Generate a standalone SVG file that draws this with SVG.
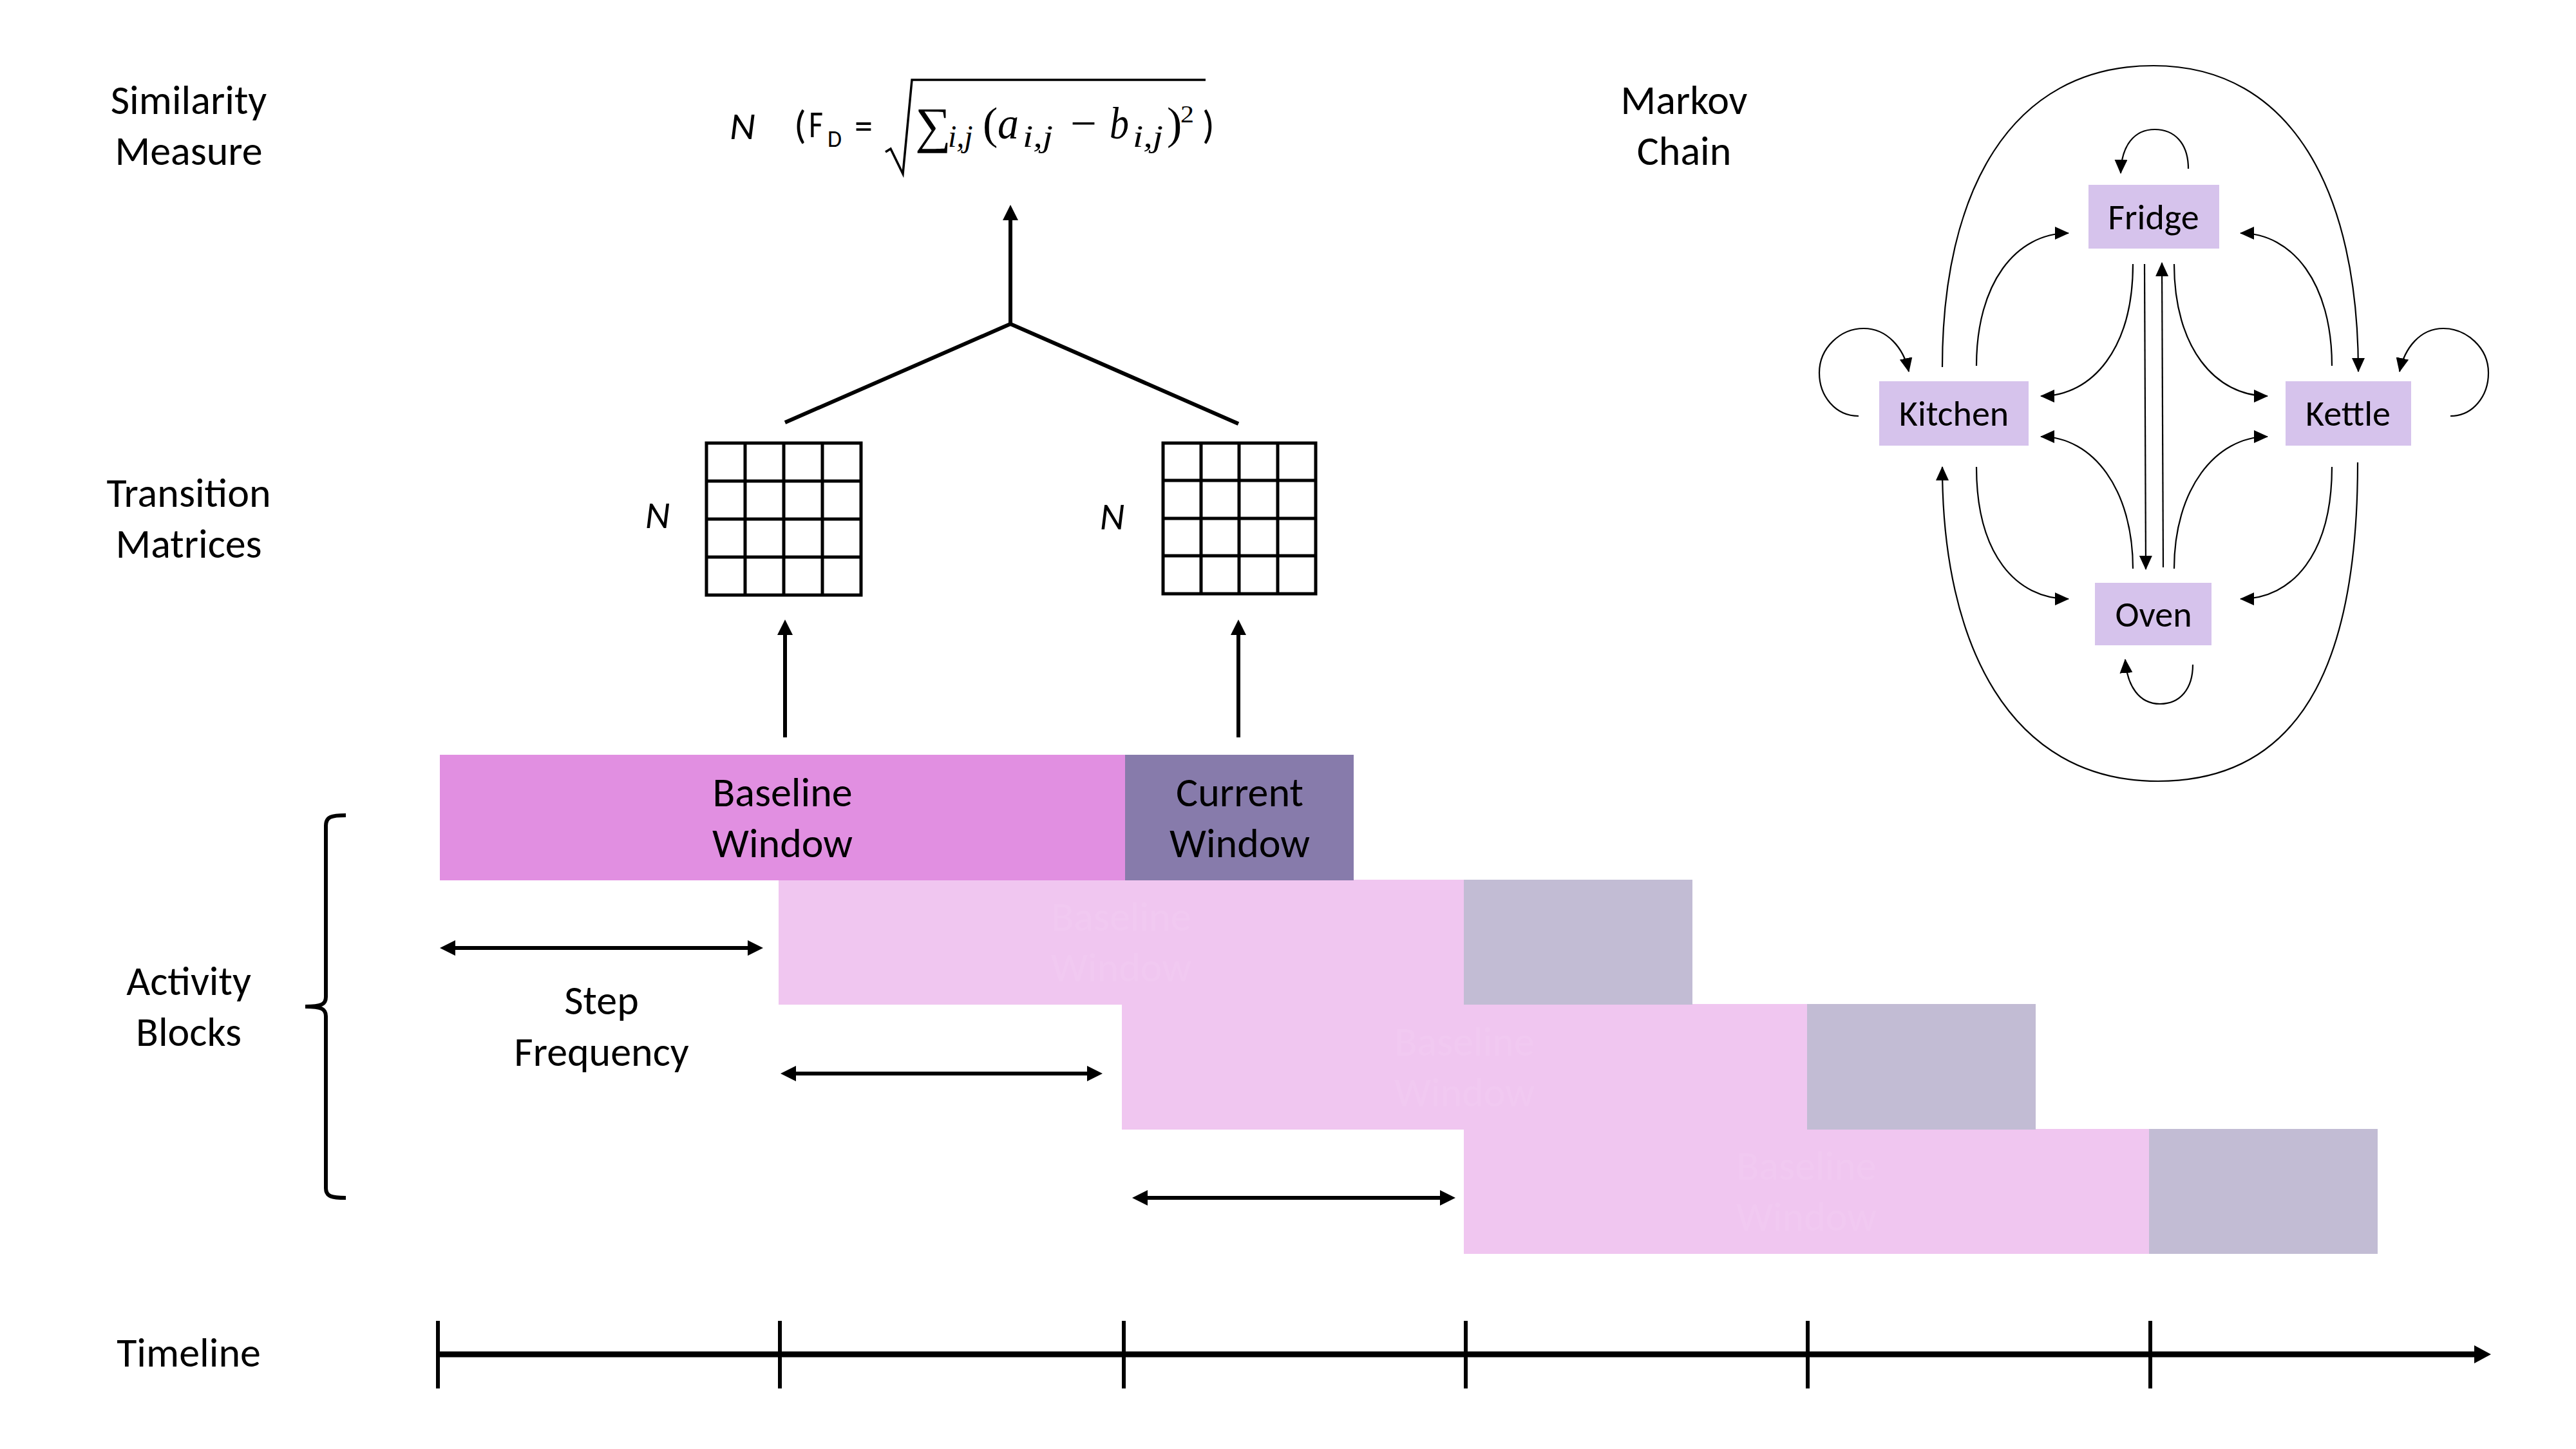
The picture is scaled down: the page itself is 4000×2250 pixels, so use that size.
<svg xmlns="http://www.w3.org/2000/svg" width="4000" height="2250" viewBox="0 0 4000 2250">
<style>
.lbl{font-family:Carlito,Lato,"Liberation Sans",sans-serif;font-size:64px;fill:#000;text-anchor:middle}
.mk{font-family:Carlito,Lato,"Liberation Sans",sans-serif;font-size:56px;fill:#000;text-anchor:middle}
.faint{font-family:Carlito,Lato,"Liberation Sans",sans-serif;font-size:64px;fill:#F1C9F1;text-anchor:middle}
.ser{font-family:"Liberation Serif","DejaVu Serif",serif;fill:#000}
.it{font-style:italic}
.sans{font-family:Carlito,Lato,"Liberation Sans",sans-serif;fill:#000}
.thick{stroke:#000;stroke-width:6;fill:none}
.thin{stroke:#000;stroke-width:2.2;fill:none;marker-end:url(#mh)}
.grid{stroke:#000;stroke-width:5;fill:none}
.node{fill:#D6C3EC}
</style>
<defs>
<marker id="ah" viewBox="0 0 24 24" refX="6" refY="12" markerWidth="24" markerHeight="24" markerUnits="userSpaceOnUse" orient="auto-start-reverse"><path d="M0,0 L24,12 L0,24 z" fill="#000"/></marker>
<marker id="mh" viewBox="0 0 22 20" refX="21" refY="10" markerWidth="22" markerHeight="20" markerUnits="userSpaceOnUse" orient="auto"><path d="M0,0 L22,10 L0,20 z" fill="#000"/></marker>
</defs>
<rect width="4000" height="2250" fill="#fff"/>

<!-- left labels -->
<g id="label-similarity"><text class="lbl" x="293" y="177">Similarity</text><text class="lbl" x="293" y="256">Measure</text></g>
<g id="label-transition"><text class="lbl" x="293" y="787">Transition</text><text class="lbl" x="293" y="866">Matrices</text></g>
<g id="label-activity"><text class="lbl" x="293" y="1545">Activity</text><text class="lbl" x="293" y="1624">Blocks</text></g>
<g id="label-timeline"><text class="lbl" x="293" y="2122">Timeline</text></g>
<g id="label-markov"><text class="lbl" x="2615" y="177">Markov</text><text class="lbl" x="2615" y="256">Chain</text></g>

<!-- formula -->
<g id="formula">
<text class="sans it" x="1133" y="216" font-size="60" textLength="40" lengthAdjust="spacingAndGlyphs">N</text>
<text class="sans" x="1233" y="215" font-size="62">(</text>
<text class="sans" x="1256" y="213" font-size="60" textLength="22" lengthAdjust="spacingAndGlyphs">F</text>
<text class="sans" x="1285" y="228" font-size="36" textLength="22" lengthAdjust="spacingAndGlyphs">D</text>
<text class="sans" x="1327" y="215" font-size="60" textLength="28" lengthAdjust="spacingAndGlyphs">=</text>
<path d="M1375,236 L1383,231 L1402,270 L1416,124 L1872,124" stroke="#000" stroke-width="3.5" fill="none"/>
<text class="ser" y="221"><tspan x="1421" font-size="78">∑</tspan><tspan x="1472" y="228" font-size="48" font-style="italic">i,j</tspan></text>
<text class="ser" x="1526" y="215" font-size="70">(</text>
<text class="ser it" x="1549" y="215" font-size="70" textLength="33" lengthAdjust="spacingAndGlyphs">a</text>
<text class="ser it" x="1588" y="228" font-size="48" textLength="47" lengthAdjust="spacingAndGlyphs">i,j</text>
<text class="ser" x="1662" y="215" font-size="70" textLength="41" lengthAdjust="spacingAndGlyphs">−</text>
<text class="ser it" x="1723" y="215" font-size="70" textLength="30" lengthAdjust="spacingAndGlyphs">b</text>
<text class="ser it" x="1759" y="228" font-size="48" textLength="47" lengthAdjust="spacingAndGlyphs">i,j</text>
<text class="ser" x="1812" y="215" font-size="70">)</text>
<text class="ser" x="1833" y="190" font-size="38" textLength="21" lengthAdjust="spacingAndGlyphs">2</text>
<text class="sans" x="1867" y="215" font-size="62">)</text>
</g>

<!-- transition matrices -->
<g id="matrix-baseline">
<rect class="grid" x="1097" y="688" width="240" height="236"/>
<path class="grid" d="M1157,688V924M1217,688V924M1277,688V924M1097,747H1337M1097,806H1337M1097,865H1337"/>
<text class="sans it" x="1021" y="820" font-size="60" text-anchor="middle">N</text>
</g>
<g id="matrix-current">
<rect class="grid" x="1806" y="688" width="237" height="234"/>
<path class="grid" d="M1865,688V922M1924,688V922M1984,688V922M1806,746H2043M1806,805H2043M1806,863H2043"/>
<text class="sans it" x="1727" y="822" font-size="60" text-anchor="middle">N</text>
</g>

<!-- activity blocks -->
<g id="block-row4"><rect x="2273" y="1753" width="1064" height="194" fill="#F0C6F0"/><rect x="3337" y="1753" width="355" height="194" fill="#C2BCD4"/><text class="faint" x="2805" y="1832">Baseline</text><text class="faint" x="2805" y="1911">Window</text></g>
<g id="block-row3"><rect x="1742" y="1559" width="1064" height="195" fill="#F0C6F0"/><rect x="2806" y="1559" width="355" height="195" fill="#C2BCD4"/><text class="faint" x="2274" y="1639">Baseline</text><text class="faint" x="2274" y="1718">Window</text></g>
<g id="block-row2"><rect x="1209" y="1366" width="1064" height="194" fill="#F0C6F0"/><rect x="2273" y="1366" width="355" height="194" fill="#C2BCD4"/><text class="faint" x="1741" y="1445">Baseline</text><text class="faint" x="1741" y="1524">Window</text></g>
<g id="baseline-window"><rect x="683" y="1172" width="1064" height="195" fill="#E18FE1"/><text class="lbl" x="1215" y="1252">Baseline</text><text class="lbl" x="1215" y="1331">Window</text></g>
<g id="current-window"><rect x="1747" y="1172" width="355" height="195" fill="#877BAB"/><text class="lbl" x="1925" y="1252">Current</text><text class="lbl" x="1925" y="1331">Window</text></g>

<g id="step-frequency"><text class="lbl" x="934" y="1575">Step</text><text class="lbl" x="934" y="1655">Frequency</text></g>

<!-- brace -->
<g id="brace"><path d="M537,1266 C515,1266 506,1268 506,1282 L506,1548 C506,1559 500,1563 474,1563 C500,1563 506,1567 506,1578 L506,1845 C506,1858 515,1860 537,1860" stroke="#000" stroke-width="6" fill="none"/></g>

<!-- timeline -->
<g id="timeline">
<line x1="680" y1="2103" x2="3846" y2="2103" stroke="#000" stroke-width="9"/>
<polygon points="3842,2089 3868,2103 3842,2117" fill="#000"/>
<path d="M680,2051V2156M1211,2051V2156M1745,2051V2156M2276,2051V2156M2807,2051V2156M3339,2051V2156" stroke="#000" stroke-width="6"/>
</g>

<!-- markov nodes -->
<g id="node-fridge"><rect class="node" x="3243" y="287" width="203" height="99"/><text class="mk" x="3344" y="356">Fridge</text></g>
<g id="node-kitchen"><rect class="node" x="2918" y="592" width="232" height="100"/><text class="mk" x="3034" y="661">Kitchen</text></g>
<g id="node-kettle"><rect class="node" x="3549" y="592" width="195" height="100"/><text class="mk" x="3646" y="661">Kettle</text></g>
<g id="node-oven"><rect class="node" x="3253" y="905" width="181" height="97"/><text class="mk" x="3344" y="973">Oven</text></g>

<!-- connectors -->
<g id="connectors">
<path d="M1569,503 V336" class="thick" marker-end="url(#ah)"/>
<polyline points="1219,656 1569,503 1923,658" class="thick"/>
<path d="M1219,1145 V980" class="thick" marker-end="url(#ah)"/>
<path d="M1923,1145 V980" class="thick" marker-end="url(#ah)"/>
<path d="M701,1472 H1167" class="thick" marker-start="url(#ah)" marker-end="url(#ah)"/>
<path d="M1230,1667 H1694" class="thick" marker-start="url(#ah)" marker-end="url(#ah)"/>
<path d="M1776,1860 H2242" class="thick" marker-start="url(#ah)" marker-end="url(#ah)"/>

<path class="thin" d="M3398,262 C3398,222 3376,201 3346,201 C3314,201 3294,226 3293,269"/>
<path class="thin" d="M2886,646 C2850,646 2825,615 2825,579 C2825,540 2858,510 2894,510 C2930,510 2956,540 2964,577"/>
<path class="thin" d="M3805,646 C3840,646 3864,615 3864,579 C3864,540 3830,510 3794,510 C3758,510 3734,540 3726,577"/>
<path class="thin" d="M3405,1032 C3405,1070 3385,1093 3354,1093 C3322,1093 3303,1066 3300,1024"/>
<path class="thin" d="M3016,570 C3016,300 3120,102 3344,102 C3560,102 3662,300 3662,577"/>
<path class="thin" d="M3661,718 C3661,1000 3590,1213 3351,1213 C3120,1213 3016,1000 3016,725"/>
<path class="thin" d="M3069,568 C3069,440 3130,362 3212,362"/>
<path class="thin" d="M3312,410 C3312,540 3250,615 3169,615"/>
<path class="thin" d="M3376,410 C3376,540 3440,615 3521,615"/>
<path class="thin" d="M3621,568 C3621,440 3560,362 3479,362"/>
<path class="thin" d="M3312,883 C3312,760 3250,678 3169,678"/>
<path class="thin" d="M3069,725 C3069,860 3130,930 3212,930"/>
<path class="thin" d="M3621,725 C3621,860 3560,930 3479,930"/>
<path class="thin" d="M3376,883 C3376,760 3440,678 3521,678"/>
<path class="thin" d="M3330,410 L3332,884"/>
<path class="thin" d="M3359,881 L3357,408"/>
</g>
</svg>
